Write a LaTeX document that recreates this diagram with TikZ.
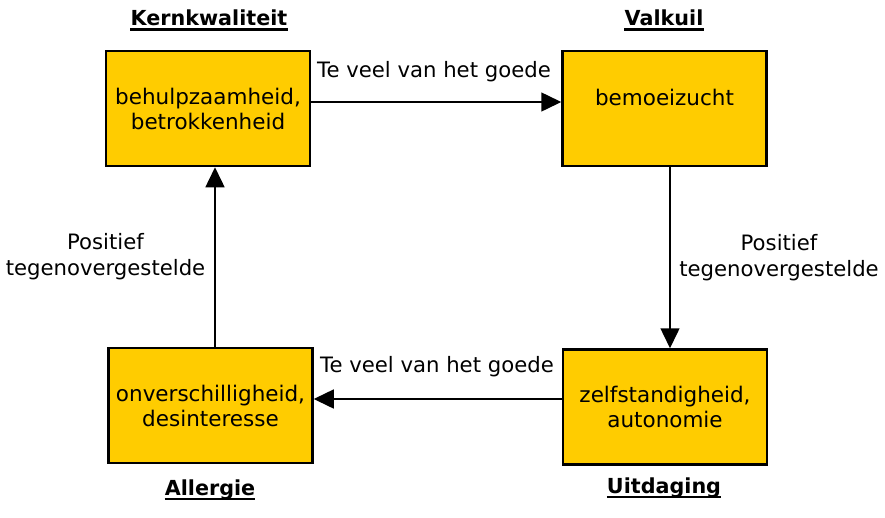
\documentclass[tikz,border=0pt]{standalone}
\usepackage{fontspec}
\setmainfont{DejaVu Sans}
\usetikzlibrary{arrows.meta}
\definecolor{boxyellow}{HTML}{FFCC00}
\tikzset{
  box/.style={draw=black, line width=2.5pt, fill=boxyellow, minimum width=204pt, minimum height=115pt, inner sep=0pt, align=center, font=\fontsize{21.5}{25}\selectfont},
  lbl/.style={align=center, inner sep=0pt, font=\fontsize{21.2}{26}\selectfont},
  ttl/.style={inner sep=0pt, anchor=base, font=\fontsize{20.7}{25}\selectfont\bfseries},
  uline/.style={line width=2.4pt},
  arr/.style={line width=1.5pt, -{Triangle[length=20pt,width=19pt]}}
}
\begin{document}
\begin{tikzpicture}[x=1pt,y=-1pt]
\useasboundingbox (0,0) rectangle (885,517);
\node[box] (k) at (208,108.5) {behulpzaamheid,\\betrokkenheid};
\node[box] (v) at (664.5,108.5) {};
\node[lbl, font=\fontsize{21.5}{25}\selectfont] (vt) at (664.5,97) {bemoeizucht};
\node[box] (a) at (210.5,405.5) {onverschilligheid,\\desinteresse};
\node[box] (u) at (665,407) {zelfstandigheid,\\autonomie};
\node[ttl] (tk) at (209,25.5) {Kernkwaliteit};
\node[ttl] (tv) at (664,25.5) {Valkuil};
\node[ttl] (ta) at (210,495) {Allergie};
\node[ttl] (tu) at (664,493) {Uitdaging};
\foreach \t in {tk,tv,ta,tu}
  \draw[uline] ([yshift=-4pt]\t.base west) -- ([yshift=-4pt]\t.base east);
\coordinate (k1) at (k.east |- 0,102);
\coordinate (v1) at (v.west |- 0,102);
\draw[arr] (k1) -- (v1);
\coordinate (v2) at (670,0 |- v.south);
\coordinate (u2) at (670,0 |- u.north);
\draw[arr] (v2) -- (u2);
\coordinate (u3) at (u.west |- 0,399);
\coordinate (a3) at (a.east |- 0,399);
\draw[arr] (u3) -- (a3);
\coordinate (a4) at (215,0 |- a.north);
\coordinate (k4) at (215,0 |- k.south);
\draw[arr] (a4) -- (k4);
\node[lbl] (l1) at (434,72) {Te veel van het goede};
\node[lbl] (l2) at (437,367) {Te veel van het goede};
\node[lbl] (l3) at (105.5,257) {Positief\\tegenovergestelde};
\node[lbl] (l4) at (779,258) {Positief\\tegenovergestelde};
\end{tikzpicture}
\end{document}
